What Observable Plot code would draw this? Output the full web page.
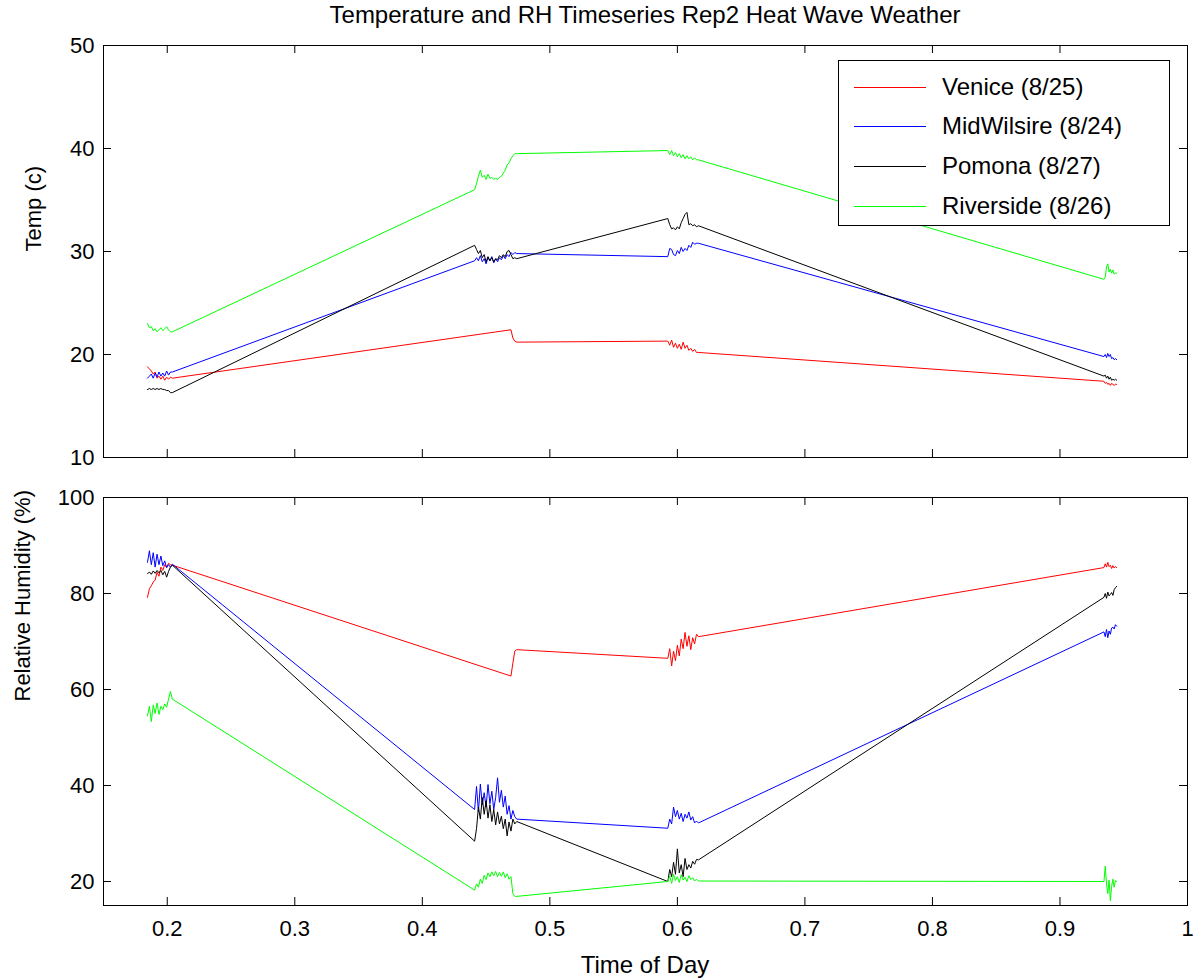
<!DOCTYPE html>
<html><head><meta charset="utf-8">
<script src="https://cdn.jsdelivr.net/npm/d3@7"></script>
<script src="https://cdn.jsdelivr.net/npm/@observablehq/plot@0.6"></script>
<style>
body{margin:0;background:#fff;}
#wrap{position:relative;width:1194px;height:979px;font-family:"Liberation Sans",Arial,sans-serif;color:#000;overflow:hidden;}
#title{position:absolute;left:103px;width:1084px;top:1px;text-align:center;font-size:24px;}
#xlabel{position:absolute;left:103px;width:1084px;top:951px;text-align:center;font-size:24px;}
#top{position:absolute;left:0;top:0;}
#bot{position:absolute;left:0;top:470px;}
#legend{position:absolute;left:838px;top:60px;width:332px;height:166px;border:1px solid #000;background:#fff;box-sizing:border-box;}
.row{position:absolute;left:0;width:330px;height:30px;font-size:24px;line-height:30px;}
.sw{position:absolute;left:15px;top:15px;width:72px;height:0;border-top:1px solid;}
.lt{position:absolute;left:103px;top:0;white-space:nowrap;}
</style></head>
<body><div id="wrap">
<div id="title">Temperature and RH Timeseries Rep2 Heat Wave Weather</div>
<div id="top"></div>
<div id="bot"></div>
<div id="legend"></div>
<div id="xlabel">Time of Day</div>
</div>
<script>
const seriesNames = ["Venice (8/25)", "MidWilsire (8/24)", "Pomona (8/27)", "Riverside (8/26)"];
const seriesColors = ["#ff0000", "#0000ff", "#000000", "#00ff00"];
const titleText = "Temperature and RH Timeseries Rep2 Heat Wave Weather";
const xTicks = [0.2, 0.3, 0.4, 0.5, 0.6, 0.7, 0.8, 0.9, 1];
const tempTicks = [10, 20, 30, 40, 50];
const rhTicks = [20, 40, 60, 80, 100];
const tempLabel = "Temp (c)";
const rhLabel = "Relative Humidity (%)";

const time1 = [0.1845, 0.186, 0.1875, 0.189, 0.1905, 0.192, 0.1935, 0.195, 0.1965, 0.198, 0.1995, 0.201, 0.2025, 0.204];
const time2 = [0.441, 0.4425, 0.444, 0.4455, 0.447, 0.4485, 0.45, 0.4515, 0.453, 0.4545, 0.456, 0.4575, 0.459, 0.4605, 0.462, 0.4635, 0.465, 0.4665, 0.468, 0.4695, 0.471, 0.4725, 0.474];
const time3 = [0.5925, 0.594, 0.5955, 0.597, 0.5985, 0.6, 0.6015, 0.603, 0.6045, 0.606, 0.6075, 0.609, 0.6105, 0.612, 0.6135, 0.615, 0.6165];
const time4 = [0.9345, 0.9355, 0.9365, 0.9375, 0.9385, 0.9395, 0.9405, 0.9415, 0.9425, 0.9435, 0.9445];

// Temperature (c)
const tempVenice = [
  18.8, 18.6, 18.4, 18.1, 18.3, 17.7, 17.9, 17.6, 17.9, 17.5, 17.8, 17.6, 17.8, 17.7,
  null, null, null, null, null, null, null, null, null, null, null, null, null, null, null, null, null, null, null, 22.4, 21.6, 21.3, 21.2,
  21.3, 20.9, 21.4, 20.7, 21.1, 20.6, 21.0, 20.5, 21.2, 20.6, 20.9, 20.4, 20.6, 20.3, 20.5, 20.2, 20.2,
  17.4, 17.2, 17.3, 17.1, 17.2, 17.0, 17.2, 17.1, 17.0, 17.1, 17.1];
const tempMidWilsire = [
  17.7, 17.9, 18.1, 17.7, 18.2, 17.8, 18.3, 17.9, 18.2, 17.9, 18.4, 18.0, 18.3, 18.3,
  29.1, 29.4, 29.1, 29.6, 29.0, 29.3, 28.8, 29.4, 29.1, 29.5, 28.9, 29.3, 29.0, 29.4, 29.2, 29.6, 29.3, 29.7, 29.5, 29.9, 29.7, 29.9, 29.8,
  29.5, 30.3, 30.2, 29.7, 29.6, 30.1, 29.8, 30.4, 30.0, 30.3, 30.1, 30.6, 30.4, 30.9, 30.7, 30.8, 30.8,
  19.8, 20.0, 19.7, 20.1, 19.8, 20.0, 19.6, 19.7, 19.5, 19.6, 19.5];
const tempPomona = [
  16.6, 16.7, 16.6, 16.7, 16.6, 16.7, 16.6, 16.7, 16.6, 16.6, 16.5, 16.5, 16.3, 16.3,
  30.6, 30.2, 29.8, 30.1, 29.4, 29.7, 29.0, 29.5, 29.1, 29.4, 29.0, 29.3, 29.2, 29.6, 29.4, 29.7, 29.5, 30.0, 30.1, 29.7, 29.3, 29.4, 29.3,
  33.2, 32.6, 32.2, 32.3, 32.1, 32.4, 32.2, 32.8, 33.2, 33.6, 33.8, 32.6, 32.7, 32.5, 32.6, 32.4, 32.5,
  17.9, 18.0, 17.7, 17.9, 17.6, 17.8, 17.5, 17.6, 17.5, 17.6, 17.5];
const tempRiverside = [
  23.0, 22.6, 22.7, 22.3, 22.5, 22.2, 22.4, 22.6, 22.3, 22.5, 22.7, 22.4, 22.2, 22.2,
  36.0, 36.6, 37.3, 37.9, 37.2, 37.4, 37.0, 37.5, 37.1, 37.2, 37.0, 37.1, 37.0, 37.2, 37.3, 37.6, 37.9, 38.4, 38.6, 39.0, 39.3, 39.5, 39.5,
  39.8, 39.4, 39.8, 39.3, 39.6, 39.2, 39.5, 39.1, 39.4, 39.0, 39.3, 39.0, 39.2, 38.9, 39.1, 38.9, 38.9,
  27.3, 27.5, 28.5, 28.8, 28.0, 28.3, 27.9, 28.2, 27.8, 27.9, 27.9];

// Relative humidity (%)
const rhVenice = [
  79.2, 81.0, 81.6, 82.4, 82.8, 84.4, 83.6, 85.5, 84.8, 86.0, 85.4, 86.3, 86.0, 85.9,
  null, null, null, null, null, null, null, null, null, null, null, null, null, null, null, null, null, null, null, 62.8, 65.5, 68.0, 68.3,
  66.5, 68.5, 64.9, 68.0, 66.0, 69.2, 67.0, 70.5, 68.5, 71.9, 69.0, 71.2, 68.3, 70.8, 69.5, 71.5, 71.0,
  85.4, 86.2, 85.5, 86.5, 85.6, 85.9, 85.2, 85.8, 85.3, 85.6, 85.4];
const rhMidWilsire = [
  86.5, 88.9, 86.0, 88.5, 85.5, 88.2, 86.0, 87.8, 85.8, 86.8, 85.4, 86.0, 85.5, 86.1,
  35.0, 39.8, 34.5, 40.3, 36.0, 38.5, 35.5, 40.2, 36.2, 38.8, 35.0, 37.5, 41.6, 36.5, 39.0, 35.5, 37.8, 34.0, 35.8, 33.0, 34.8, 33.5, 33.0,
  31.1, 33.0, 32.0, 35.5, 33.5, 34.8, 33.0, 34.2, 32.5, 34.0, 33.2, 34.5, 32.8, 33.5, 32.2, 32.6, 32.2,
  72.0, 71.0, 72.5, 70.8, 72.2, 71.5, 72.8, 73.0, 72.6, 73.5, 73.2];
const rhPomona = [
  84.1, 84.5, 84.0, 84.7, 84.2, 84.8, 84.3, 84.8, 83.9, 84.6, 83.4, 84.6, 85.5, 85.9,
  28.4, 31.0, 35.5, 33.0, 37.5, 34.0, 36.8, 33.2, 36.0, 32.5, 35.0, 31.8, 34.5, 32.0, 33.6, 31.0, 33.0, 29.5, 32.4, 30.5, 33.0, 32.0, 32.5,
  20.0, 22.5, 21.0, 24.0, 21.5, 26.8, 21.8, 23.5, 21.0, 24.8, 22.5, 23.5, 22.8, 24.2, 23.6, 24.6, 24.5,
  79.2, 80.0, 79.0, 80.3, 79.5, 79.8, 80.2, 79.6, 80.8, 81.2, 81.5];
const rhRiverside = [
  54.5, 56.5, 53.3, 56.8, 55.0, 57.2, 54.8, 56.5, 55.8, 57.0, 56.3, 58.0, 59.6, 58.0,
  18.2, 19.5, 18.8, 20.5, 19.6, 21.3, 20.4, 21.8, 21.0, 22.0, 21.2, 22.1, 21.0, 21.9, 21.1, 22.0, 20.8, 21.6, 20.5, 21.0, 17.5, 16.9, 16.9,
  20.0, 21.2, 19.6, 21.5, 20.2, 21.0, 19.8, 21.4, 20.3, 20.9, 20.0, 21.2, 20.4, 20.8, 20.1, 20.5, 20.1,
  20.0, 23.2, 19.5, 17.5, 20.3, 16.0, 19.0, 20.5, 18.8, 20.2, 20.0];

const time = [...time1, ...time2, ...time3, ...time4];
function rows(lists) {
  const out = [];
  lists.forEach((vals, si) => {
    vals.forEach((v, i) => { if (v != null) out.push({series: seriesNames[si], t: time[i], v}); });
  });
  return out;
}
const tempData = rows([tempVenice, tempMidWilsire, tempPomona, tempRiverside]);
const rhData = rows([rhVenice, rhMidWilsire, rhPomona, rhRiverside]);

const W = 1194, ML = 103, MR = 7, TK = 8;
const font = {fontFamily: "'Liberation Sans', Arial, sans-serif", fontSize: "22px", color: "#000", background: "transparent", overflow: "visible"};

function panel({data, yDomain, yTicks, yLabel, labelDx, height, mt, mb, showX}) {
  const ph = height - mt - mb, pw = W - ML - MR;
  const marks = [
    Plot.tickX(xTicks, {x: d => d, insetTop: ph - TK, stroke: "#000"}),
    Plot.tickX(xTicks, {x: d => d, insetBottom: ph - TK, stroke: "#000"}),
    Plot.tickY(yTicks, {y: d => d, insetRight: pw - TK, stroke: "#000"}),
    Plot.tickY(yTicks, {y: d => d, insetLeft: pw - TK, stroke: "#000"}),
    Plot.line(data, {x: "t", y: "v", z: "series", stroke: "series", strokeWidth: 1, curve: "linear"}),
    Plot.frame({stroke: "#000", strokeWidth: 1}),
    Plot.axisY(yTicks, {tickSize: 0, tickPadding: 9, fontSize: 22, label: null, tickFormat: d => String(d)}),
    Plot.text([yLabel], {frameAnchor: "left", rotate: -90, dx: labelDx, text: d => d, fontSize: 22, fill: "#000"})
  ];
  if (showX) marks.push(Plot.axisX(xTicks, {tickSize: 0, tickPadding: 15, fontSize: 22, label: null, tickFormat: d => String(d)}));
  return Plot.plot({
    width: W, height, marginLeft: ML, marginRight: MR, marginTop: mt, marginBottom: mb,
    style: font,
    x: {type: "linear", domain: [0.15, 1], axis: null, label: null},
    y: {type: "linear", domain: yDomain, axis: null, label: null},
    color: {domain: seriesNames, range: seriesColors},
    marks
  });
}

document.getElementById("top").appendChild(panel({
  data: tempData, yDomain: [10, 50], yTicks: tempTicks, yLabel: tempLabel, labelDx: -70,
  height: 470, mt: 45, mb: 13, showX: false
}));
document.getElementById("bot").appendChild(panel({
  data: rhData, yDomain: [15, 100], yTicks: rhTicks, yLabel: rhLabel, labelDx: -81,
  height: 509, mt: 27, mb: 74, showX: true
}));

const leg = document.getElementById("legend");
const rowTops = [11, 50, 90, 130];
seriesNames.forEach((name, i) => {
  const r = document.createElement("div");
  r.className = "row";
  r.style.top = rowTops[i] + "px";
  const sw = document.createElement("div");
  sw.className = "sw";
  sw.style.borderTopColor = seriesColors[i];
  const lt = document.createElement("div");
  lt.className = "lt";
  lt.textContent = name;
  r.appendChild(sw); r.appendChild(lt);
  leg.appendChild(r);
});
</script>
</body></html>
